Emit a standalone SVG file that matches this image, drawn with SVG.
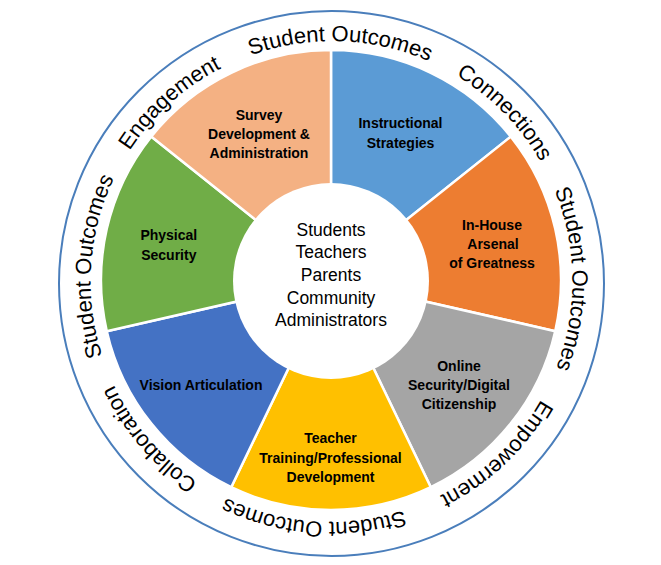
<svg xmlns="http://www.w3.org/2000/svg" xmlns:xlink="http://www.w3.org/1999/xlink" width="661" height="565" viewBox="0 0 661 565">
  <style>
    .seg { stroke: #ffffff; stroke-width: 2.5; stroke-linejoin: miter; }
    .lbl { font-family: "Liberation Sans", Arial, sans-serif; font-weight: bold; font-size: 14px; fill: #000000; text-anchor: middle; }
    .ctr { font-family: "Liberation Sans", Arial, sans-serif; font-size: 17.5px; fill: #000000; text-anchor: middle; }
    .ring { font-family: "Liberation Sans", Arial, sans-serif; font-size: 22px; fill: #000000; }
  </style>
  <defs>
    <path id="ringPath" d="M421.41,504.02 A240,240 0 1,1 241.59,58.98 A240,240 0 1,1 421.41,504.02"/>
  </defs>
  <rect width="661" height="565" fill="#ffffff"/>
  <circle id="outer-ring" cx="331.5" cy="283.5" r="272.5" fill="#ffffff" stroke="#4A7EBB" stroke-width="2"/>

  <g id="instructional-strategies">
    <path class="seg" fill="#5B9BD5" d="M331,280 L331,50 A230,230 0 0,1 510.82,136.60 Z"/>
    <text class="lbl" x="400.5" y="128.3">Instructional</text>
    <text class="lbl" x="400.5" y="148">Strategies</text>
  </g>
  <g id="in-house-arsenal">
    <path class="seg" fill="#ED7D31" d="M331,280 L510.82,136.60 A230,230 0 0,1 555.23,331.18 Z"/>
    <text class="lbl" x="492" y="230">In-House</text>
    <text class="lbl" x="493" y="249.3">Arsenal</text>
    <text class="lbl" x="492" y="268.3">of Greatness</text>
  </g>
  <g id="online-security">
    <path class="seg" fill="#A5A5A5" d="M331,280 L555.23,331.18 A230,230 0 0,1 430.79,487.22 Z"/>
    <text class="lbl" x="459" y="370.5">Online</text>
    <text class="lbl" x="459" y="390.3">Security/Digital</text>
    <text class="lbl" x="459" y="409.4">Citizenship</text>
  </g>
  <g id="teacher-training">
    <path class="seg" fill="#FFC000" d="M331,280 L430.79,487.22 A230,230 0 0,1 231.21,487.22 Z"/>
    <text class="lbl" x="330.5" y="443.2">Teacher</text>
    <text class="lbl" x="330.5" y="463.3">Training/Professional</text>
    <text class="lbl" x="330.5" y="482">Development</text>
  </g>
  <g id="vision-articulation">
    <path class="seg" fill="#4472C4" d="M331,280 L231.21,487.22 A230,230 0 0,1 106.77,331.18 Z"/>
    <text class="lbl" x="201" y="390.3">Vision Articulation</text>
  </g>
  <g id="physical-security">
    <path class="seg" fill="#70AD47" d="M331,280 L106.77,331.18 A230,230 0 0,1 151.18,136.60 Z"/>
    <text class="lbl" x="168.8" y="240.3">Physical</text>
    <text class="lbl" x="168.8" y="259.7">Security</text>
  </g>
  <g id="survey-development">
    <path class="seg" fill="#F4B183" d="M331,280 L151.18,136.60 A230,230 0 0,1 331,50 Z"/>
    <text class="lbl" x="259" y="120">Survey</text>
    <text class="lbl" x="259" y="139.2">Development &amp;</text>
    <text class="lbl" x="259" y="158.3">Administration</text>
  </g>

  <g id="center">
    <circle cx="331" cy="281" r="98" fill="#ffffff"/>
    <text class="ctr" x="331" y="235.8">Students</text>
    <text class="ctr" x="331" y="258.3">Teachers</text>
    <text class="ctr" x="331" y="280.8">Parents</text>
    <text class="ctr" x="331" y="303.6">Community</text>
    <text class="ctr" x="331" y="326">Administrators</text>
  </g>

  <g id="ring-labels">
    <text class="ring"><textPath xlink:href="#ringPath" href="#ringPath" startOffset="856.9" text-anchor="middle">Student Outcomes</textPath></text>
    <text class="ring"><textPath xlink:href="#ringPath" href="#ringPath" startOffset="1039.7" text-anchor="middle">Connections</textPath></text>
    <text class="ring"><textPath xlink:href="#ringPath" href="#ringPath" startOffset="1223.5" text-anchor="middle">Student Outcomes</textPath></text>
    <text class="ring"><textPath xlink:href="#ringPath" href="#ringPath" startOffset="1420.4" text-anchor="middle">Empowerment</textPath></text>
    <text class="ring"><textPath xlink:href="#ringPath" href="#ringPath" startOffset="110.2" text-anchor="middle">Student Outcomes</textPath></text>
    <text class="ring"><textPath xlink:href="#ringPath" href="#ringPath" startOffset="298.7" text-anchor="middle">Collaboration</textPath></text>
    <text class="ring"><textPath xlink:href="#ringPath" href="#ringPath" startOffset="485.9" text-anchor="middle">Student Outcomes</textPath></text>
    <text class="ring"><textPath xlink:href="#ringPath" href="#ringPath" startOffset="671.0" text-anchor="middle">Engagement</textPath></text>
  </g>
</svg>
